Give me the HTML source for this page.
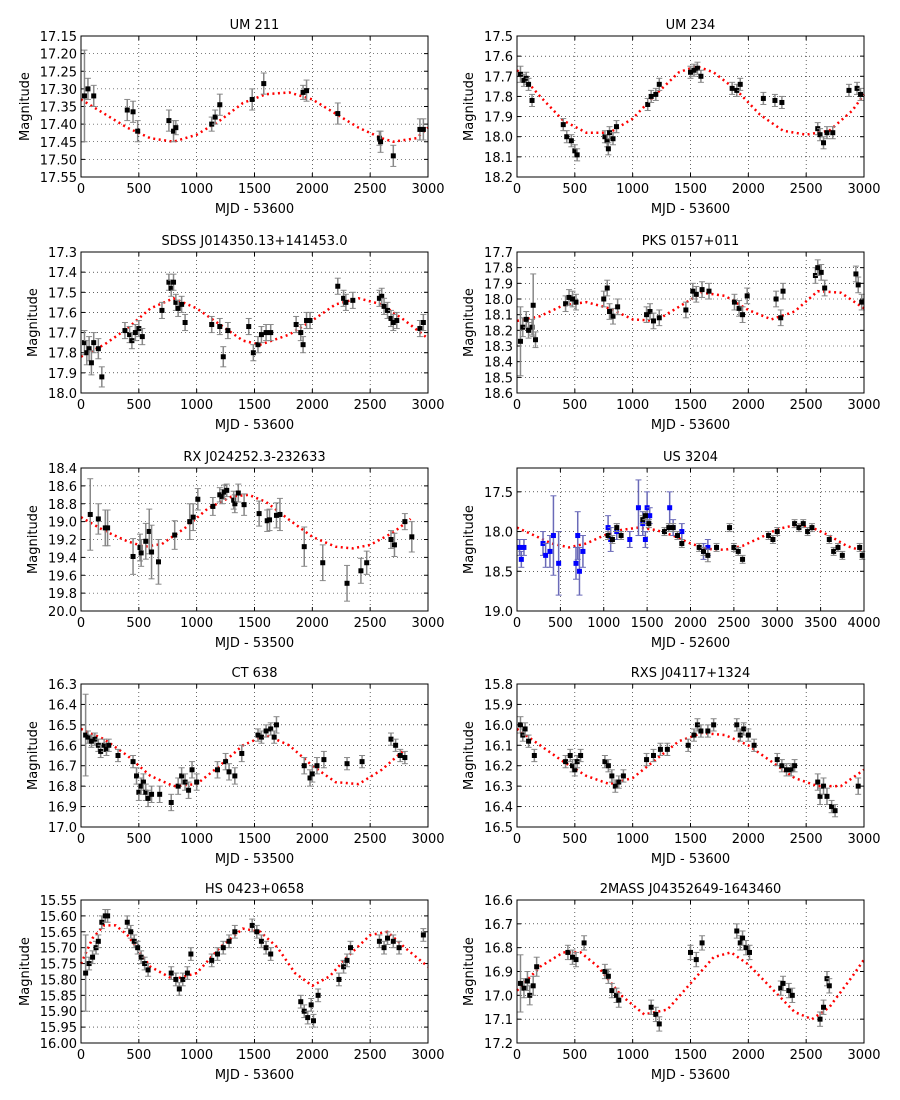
<!DOCTYPE html>
<html><head><meta charset="utf-8"><style>
body{margin:0;background:#fff;width:900px;height:1100px;overflow:hidden}
svg{display:block;font-family:"DejaVu Sans","Liberation Sans",sans-serif}
</style></head><body>
<svg id="fig" width="900" height="1100"></svg>
<script>
const titles=["UM 211","UM 234","SDSS J014350.13+141453.0","PKS 0157+011","RX J024252.3-232633","US 3204","CT 638","RXS J04117+1324","HS 0423+0658","2MASS J04352649-1643460"];
const xLabels=["MJD - 53600","MJD - 53600","MJD - 53600","MJD - 53600","MJD - 53500","MJD - 52600","MJD - 53500","MJD - 53600","MJD - 53600","MJD - 53600"];
const xMax=[3000,3000,3000,3000,3000,4000,3000,3000,3000,3000];
const yTop=[17.15,17.5,17.3,17.7,18.4,17.2,16.3,15.8,15.55,16.6];
const yBot=[17.55,18.2,18.0,18.6,20.0,19.0,17.0,16.5,16.0,17.2];
const yStep=[0.05,0.1,0.1,0.1,0.2,0.5,0.1,0.1,0.05,0.1];
const yDec=[2,1,1,1,1,1,1,1,2,1];
const pts1=[[30,17.32,0.13],[60,17.30,0.03],[110,17.32,0.03],[400,17.36,0.03],[450,17.365,0.03],[490,17.42,0.03],[760,17.39,0.03],[800,17.42,0.03],[820,17.41,0.02],[1130,17.40,0.02],[1160,17.38,0.02],[1200,17.345,0.03],[1480,17.33,0.03],[1580,17.285,0.03],[1920,17.31,0.02],[1950,17.305,0.03],[2220,17.37,0.03],[2580,17.44,0.02],[2590,17.45,0.03],[2700,17.49,0.03],[2930,17.415,0.03],[2960,17.415,0.03]];
const pts2=[[30,17.69,0.04],[60,17.72,0.03],[80,17.71,0.03],[100,17.74,0.03],[130,17.82,0.03],[400,17.94,0.03],[430,18.0,0.03],[470,18.02,0.03],[500,18.07,0.03],[520,18.09,0.03],[760,18.0,0.03],[780,18.02,0.03],[790,18.06,0.03],[800,17.98,0.03],[830,18.01,0.03],[860,17.95,0.03],[1130,17.84,0.03],[1160,17.80,0.03],[1200,17.79,0.03],[1230,17.74,0.03],[1500,17.68,0.03],[1530,17.67,0.03],[1560,17.66,0.03],[1590,17.70,0.03],[1860,17.76,0.03],[1900,17.77,0.03],[1930,17.74,0.03],[2130,17.81,0.03],[2230,17.82,0.03],[2290,17.83,0.03],[2600,17.96,0.03],[2620,17.99,0.03],[2650,18.03,0.03],[2680,17.98,0.03],[2730,17.98,0.03],[2870,17.77,0.03],[2940,17.76,0.03],[2970,17.79,0.03]];
const pts3=[[30,17.75,0.06],[50,17.80,0.06],[70,17.78,0.06],[90,17.85,0.06],[110,17.75,0.05],[150,17.78,0.05],[180,17.92,0.05],[380,17.69,0.04],[420,17.71,0.04],[440,17.74,0.04],[470,17.70,0.04],[500,17.68,0.04],[530,17.72,0.04],[700,17.59,0.04],[760,17.45,0.04],[780,17.48,0.04],[800,17.45,0.04],[820,17.55,0.04],[840,17.58,0.04],[870,17.56,0.04],[900,17.65,0.04],[1130,17.66,0.04],[1200,17.67,0.04],[1230,17.82,0.05],[1270,17.69,0.04],[1450,17.67,0.04],[1490,17.80,0.04],[1530,17.76,0.04],[1560,17.71,0.04],[1600,17.70,0.04],[1640,17.70,0.04],[1860,17.66,0.04],[1900,17.70,0.04],[1920,17.76,0.04],[1950,17.64,0.04],[1980,17.64,0.04],[2220,17.47,0.04],[2270,17.53,0.04],[2290,17.55,0.04],[2350,17.54,0.04],[2580,17.53,0.04],[2600,17.52,0.04],[2620,17.57,0.04],[2650,17.59,0.04],[2680,17.63,0.04],[2700,17.65,0.04],[2730,17.64,0.04],[2930,17.68,0.04],[2960,17.65,0.04]];
const pts4=[[30,18.27,0.22],[50,18.18,0.06],[80,18.13,0.05],[100,18.20,0.05],[130,18.18,0.05],[160,18.26,0.05],[140,18.04,0.2],[420,18.03,0.05],[450,17.99,0.05],[480,18.00,0.05],[510,18.02,0.05],[750,18.00,0.05],[780,17.93,0.05],[800,18.08,0.05],[830,18.11,0.05],[870,18.05,0.05],[1120,18.10,0.05],[1150,18.08,0.05],[1180,18.14,0.05],[1230,18.12,0.05],[1460,18.07,0.05],[1520,17.95,0.05],[1550,17.97,0.05],[1600,17.94,0.05],[1660,17.95,0.05],[1880,18.02,0.05],[1920,18.06,0.05],[1950,18.10,0.05],[1990,17.98,0.05],[2240,18.00,0.05],[2280,18.12,0.05],[2300,17.95,0.05],[2580,17.85,0.05],[2600,17.80,0.05],[2630,17.83,0.05],[2660,17.93,0.05],[2930,17.84,0.05],[2950,17.91,0.05],[2980,18.02,0.05]];
const pts5=[[80,18.92,0.4],[150,18.97,0.17],[210,19.07,0.2],[230,19.07,0.2],[450,19.39,0.2],[510,19.29,0.15],[520,19.35,0.15],[560,19.22,0.2],[590,19.11,0.25],[610,19.34,0.3],[670,19.45,0.25],[810,19.15,0.16],[940,19.0,0.2],[970,18.95,0.15],[1010,18.75,0.12],[1140,18.83,0.1],[1200,18.7,0.08],[1220,18.72,0.08],[1240,18.67,0.08],[1260,18.65,0.07],[1320,18.76,0.1],[1330,18.8,0.1],[1360,18.68,0.1],[1410,18.81,0.12],[1540,18.91,0.14],[1610,18.99,0.12],[1630,18.98,0.12],[1690,18.93,0.14],[1720,18.92,0.18],[1930,19.28,0.22],[2090,19.46,0.2],[2300,19.69,0.2],[2420,19.55,0.14],[2470,19.46,0.13],[2680,19.2,0.1],[2710,19.26,0.13],[2800,19.0,0.09],[2860,19.17,0.17]];
const pts6b=[[30,18.2,0.1],[50,18.35,0.1],[80,18.2,0.1],[300,18.15,0.15],[330,18.3,0.15],[380,18.25,0.2],[420,18.05,0.5],[480,18.4,0.4],[680,18.4,0.2],[700,18.05,0.3],[720,18.5,0.3],[760,18.25,0.2],[1050,17.95,0.15],[1080,18.1,0.15],[1150,18.0,0.1],[1300,18.1,0.1],[1400,17.7,0.35],[1450,17.9,0.15],[1480,18.1,0.1],[1500,17.7,0.2],[1530,17.8,0.1],[1760,17.7,0.2],[1800,17.95,0.1],[1900,18.0,0.1],[2150,18.25,0.1],[2200,18.2,0.1]];
const pts6k=[[1050,18.05,0.05],[1100,18.1,0.05],[1150,17.95,0.05],[1200,18.05,0.05],[1450,17.85,0.05],[1480,17.8,0.05],[1520,17.9,0.05],[1700,18.0,0.05],[1750,17.95,0.05],[1800,17.95,0.05],[1850,18.05,0.05],[1900,18.15,0.05],[2100,18.2,0.05],[2150,18.25,0.05],[2200,18.3,0.08],[2300,18.2,0.05],[2450,17.95,0.05],[2500,18.2,0.05],[2550,18.25,0.05],[2600,18.35,0.05],[2900,18.05,0.05],[2950,18.1,0.05],[3000,18.0,0.05],[3200,17.9,0.05],[3250,17.95,0.05],[3300,17.9,0.05],[3350,18.0,0.05],[3400,17.95,0.05],[3600,18.1,0.05],[3650,18.25,0.05],[3700,18.2,0.05],[3750,18.3,0.05],[3950,18.2,0.05],[3980,18.3,0.05]];
const pts7=[[40,16.55,0.2],[60,16.56,0.03],[90,16.58,0.03],[120,16.57,0.03],[150,16.6,0.03],[170,16.63,0.03],[200,16.6,0.03],[220,16.62,0.03],[240,16.6,0.03],[320,16.65,0.03],[450,16.68,0.03],[480,16.75,0.04],[500,16.83,0.04],[520,16.8,0.04],[540,16.78,0.04],[560,16.83,0.04],[580,16.86,0.04],[610,16.84,0.04],[680,16.84,0.04],[780,16.88,0.04],[840,16.8,0.04],[870,16.75,0.04],[900,16.78,0.04],[930,16.82,0.04],[960,16.72,0.04],[1000,16.78,0.04],[1180,16.72,0.04],[1250,16.68,0.04],[1280,16.73,0.04],[1330,16.75,0.04],[1390,16.64,0.04],[1530,16.55,0.03],[1560,16.56,0.03],[1600,16.53,0.03],[1640,16.52,0.03],[1670,16.56,0.03],[1690,16.5,0.04],[1930,16.7,0.04],[1980,16.76,0.04],[2000,16.74,0.04],[2040,16.7,0.04],[2100,16.67,0.04],[2300,16.69,0.03],[2430,16.68,0.03],[2680,16.57,0.03],[2720,16.6,0.03],[2760,16.65,0.03],[2800,16.66,0.03]];
const pts8=[[30,16.0,0.04],[50,16.05,0.03],[70,16.02,0.03],[100,16.08,0.03],[150,16.15,0.03],[420,16.18,0.03],[460,16.15,0.03],[480,16.2,0.03],[500,16.22,0.03],[520,16.18,0.03],[550,16.15,0.03],[760,16.18,0.03],[790,16.2,0.03],[820,16.25,0.03],[850,16.3,0.03],[880,16.28,0.03],[920,16.25,0.03],[1120,16.17,0.03],[1180,16.15,0.03],[1240,16.12,0.03],[1300,16.12,0.03],[1480,16.1,0.03],[1530,16.05,0.03],[1560,16.0,0.03],[1590,16.03,0.03],[1650,16.03,0.03],[1700,16.0,0.03],[1900,16.0,0.03],[1930,16.05,0.03],[1960,16.02,0.03],[2000,16.05,0.03],[2050,16.1,0.03],[2250,16.17,0.03],[2290,16.2,0.03],[2330,16.22,0.03],[2370,16.22,0.03],[2400,16.2,0.03],[2600,16.28,0.04],[2620,16.35,0.04],[2650,16.3,0.04],[2680,16.35,0.04],[2720,16.4,0.03],[2750,16.42,0.03],[2950,16.3,0.04]];
const pts9=[[40,15.78,0.12],[70,15.75,0.02],[100,15.73,0.02],[130,15.7,0.02],[150,15.68,0.02],[180,15.62,0.02],[210,15.6,0.02],[230,15.6,0.02],[400,15.62,0.02],[430,15.65,0.02],[460,15.68,0.02],[490,15.7,0.02],[520,15.73,0.02],[550,15.75,0.02],[580,15.77,0.02],[780,15.78,0.02],[820,15.8,0.02],[850,15.83,0.02],[880,15.8,0.02],[920,15.78,0.02],[950,15.72,0.02],[1130,15.74,0.02],[1180,15.72,0.02],[1230,15.7,0.02],[1280,15.68,0.02],[1330,15.65,0.02],[1480,15.63,0.02],[1520,15.65,0.02],[1560,15.68,0.02],[1600,15.7,0.02],[1640,15.72,0.02],[1900,15.87,0.02],[1930,15.9,0.02],[1960,15.92,0.02],[1990,15.88,0.02],[2010,15.93,0.02],[2050,15.85,0.02],[2230,15.8,0.02],[2270,15.76,0.02],[2300,15.74,0.02],[2330,15.7,0.02],[2580,15.68,0.02],[2620,15.7,0.02],[2650,15.67,0.02],[2700,15.68,0.02],[2750,15.7,0.02],[2960,15.66,0.02]];
const pts10=[[30,16.95,0.12],[60,16.97,0.04],[90,16.94,0.04],[110,17.0,0.04],[140,16.96,0.04],[170,16.88,0.04],[440,16.82,0.03],[480,16.84,0.03],[510,16.85,0.03],[580,16.78,0.03],[760,16.9,0.03],[790,16.92,0.03],[820,16.98,0.03],[860,17.0,0.03],[880,17.02,0.03],[1160,17.05,0.03],[1200,17.08,0.03],[1230,17.12,0.03],[1500,16.82,0.03],[1550,16.85,0.03],[1600,16.78,0.03],[1900,16.73,0.03],[1930,16.78,0.03],[1950,16.76,0.03],[1980,16.8,0.03],[2010,16.82,0.03],[2280,16.97,0.03],[2300,16.95,0.03],[2350,16.98,0.03],[2380,17.0,0.03],[2620,17.1,0.03],[2650,17.05,0.03],[2680,16.93,0.03],[2700,16.96,0.03]];
const model1=[[0,17.33],[200,17.37],[400,17.41],[600,17.44],[800,17.45],[1000,17.43],[1200,17.39],[1400,17.34],[1600,17.315],[1800,17.31],[2000,17.33],[2200,17.37],[2400,17.41],[2600,17.44],[2700,17.45],[2900,17.44],[3000,17.41]];
const model2=[[0,17.67],[200,17.80],[400,17.92],[600,17.98],[800,17.98],[1000,17.91],[1200,17.79],[1400,17.68],[1550,17.65],[1700,17.68],[1900,17.77],[2100,17.89],[2300,17.97],[2500,17.99],[2700,17.97],[2900,17.87],[3000,17.79]];
const model3=[[0,17.82],[200,17.76],[400,17.68],[600,17.58],[800,17.53],[1000,17.58],[1200,17.66],[1400,17.74],[1550,17.76],[1800,17.71],[2000,17.64],[2200,17.56],[2400,17.53],[2600,17.56],[2800,17.64],[3000,17.73]];
const model4=[[0,18.14],[200,18.11],[400,18.04],[600,18.02],[800,18.06],[1000,18.13],[1200,18.14],[1400,18.05],[1600,17.96],[1800,17.98],[2000,18.07],[2200,18.13],[2400,18.08],[2600,17.95],[2800,17.96],[3000,18.06]];
const model5=[[0,18.95],[200,19.1],[400,19.22],[550,19.28],[700,19.25],[900,19.07],[1100,18.85],[1300,18.72],[1450,18.7],[1600,18.78],[1800,18.98],[2000,19.17],[2200,19.28],[2350,19.3],[2500,19.26],[2700,19.12],[2850,18.97]];
const model6=[[0,17.95],[200,18.05],[400,18.15],[600,18.2],[800,18.15],[1000,18.05],[1200,17.98],[1400,17.95],[1600,17.98],[1800,18.05],[2000,18.15],[2200,18.22],[2400,18.23],[2600,18.18],[2800,18.08],[3000,17.97],[3200,17.92],[3400,17.95],[3600,18.05],[3800,18.18],[4000,18.25]];
const model7=[[0,16.52],[200,16.57],[400,16.65],[600,16.75],[800,16.8],[1000,16.79],[1200,16.7],[1400,16.6],[1600,16.55],[1800,16.6],[2000,16.7],[2200,16.78],[2400,16.79],[2600,16.72],[2800,16.62]];
const model8=[[0,16.02],[200,16.1],[400,16.18],[600,16.25],[800,16.29],[1000,16.26],[1200,16.17],[1400,16.08],[1600,16.04],[1800,16.05],[2000,16.1],[2200,16.18],[2400,16.26],[2600,16.3],[2800,16.3],[3000,16.22]];
const model9=[[0,15.75],[100,15.67],[200,15.63],[300,15.63],[400,15.66],[500,15.71],[600,15.76],[800,15.8],[1000,15.78],[1200,15.7],[1400,15.64],[1550,15.65],[1700,15.7],[1850,15.78],[2000,15.82],[2150,15.79],[2300,15.73],[2500,15.66],[2650,15.65],[2800,15.7],[3000,15.76]];
const model10=[[0,16.98],[200,16.88],[400,16.82],[550,16.82],[700,16.88],[900,17.0],[1100,17.08],[1300,17.06],[1500,16.95],[1700,16.84],[1850,16.82],[2000,16.87],[2200,16.97],[2400,17.07],[2550,17.1],[2700,17.05],[2900,16.92],[3000,16.85]];
const allPts=[[pts1],[pts2],[pts3],[pts4],[pts5],[pts6b,pts6k],[pts7],[pts8],[pts9],[pts10]];
const allModels=[model1,model2,model3,model4,model5,model6,model7,model8,model9,model10];

const NS="http://www.w3.org/2000/svg";
const fig=document.getElementById('fig');
function mk(tag,attrs,parent){const e=document.createElementNS(NS,tag);for(const k in attrs)e.setAttribute(k,attrs[k]);parent.appendChild(e);return e;}
const colX=[81,517],rowY=[[36,177],[252,393],[468,611],[684,827],[900,1043]],W=347;
for(let i=0;i<10;i++){
  const c=i%2,r=Math.floor(i/2);
  const x0=colX[c],x1=x0+W,y0=rowY[r][0],y1=rowY[r][1];
  const g=mk('g',{},fig);
  
  
  const sx=v=>x0+v/xMax[i]*W;
  const sy=v=>y0+(v-yTop[i])/(yBot[i]-yTop[i])*(y1-y0);
  mk('rect',{x:x0,y:y0,width:W,height:y1-y0,fill:'#fff'},g);
  // grid + ticks
  for(let t=0;t<=xMax[i]+1e-6;t+=500){
    const X=sx(t);
    mk('line',{x1:X,y1:y0,x2:X,y2:y1,stroke:'#000','stroke-width':0.6,'stroke-dasharray':'1,3'},g);
    mk('line',{x1:X,y1:y1,x2:X,y2:y1-4,stroke:'#000','stroke-width':1},g);
    mk('line',{x1:X,y1:y0,x2:X,y2:y0+4,stroke:'#000','stroke-width':1},g);
    const tl=mk('text',{x:X,y:y1+16,'font-size':13,'text-anchor':'middle',fill:'#000'},g);
    tl.textContent=t;
    
    
  }
  const n=Math.round((yBot[i]-yTop[i])/yStep[i]);
  const first=Math.ceil(yTop[i]/yStep[i]-1e-6);
  for(let k=first;k*yStep[i]<=yBot[i]+1e-6;k++){
    const v=k*yStep[i],Y=sy(v);
    mk('line',{x1:x0,y1:Y,x2:x1,y2:Y,stroke:'#000','stroke-width':0.6,'stroke-dasharray':'1,3'},g);
    mk('line',{x1:x0,y1:Y,x2:x0+4,y2:Y,stroke:'#000','stroke-width':1},g);
    mk('line',{x1:x1,y1:Y,x2:x1-4,y2:Y,stroke:'#000','stroke-width':1},g);
    const tl=mk('text',{x:x0-4,y:Y+5,'font-size':13,'text-anchor':'end',fill:'#000'},g);
    tl.textContent=v.toFixed(yDec[i]);
    
    
  }
  // model
  const m=allModels[i];
  const path=mk('path',{d:'M'+m.map(p=>sx(p[0]).toFixed(1)+','+sy(p[1]).toFixed(1)).join(' L'),fill:'none',stroke:'#f00','stroke-width':2.5,'stroke-dasharray':'2,3.5'},g);
  
  
  // points
  allPts[i].forEach((arr,si)=>{
    const blue=(i===5&&si===0);
    arr.forEach(p=>{
      const X=sx(p[0]),Y=sy(p[1]);
      const eb=mk('g',{},g);
      
      
      const ec=blue?'#6a6ab8':'#888';
      mk('line',{x1:X,y1:sy(p[1]-p[2]),x2:X,y2:sy(p[1]+p[2]),stroke:ec,'stroke-width':1.5},eb);
      mk('line',{x1:X-3,y1:sy(p[1]-p[2]),x2:X+3,y2:sy(p[1]-p[2]),stroke:ec,'stroke-width':1},eb);
      mk('line',{x1:X-3,y1:sy(p[1]+p[2]),x2:X+3,y2:sy(p[1]+p[2]),stroke:ec,'stroke-width':1},eb);
      mk('rect',{x:X-2.5,y:Y-2.5,width:5,height:5,fill:blue?'#00f':'#000'},eb);
    });
  });
  mk('rect',{x:x0,y:y0,width:W,height:y1-y0,fill:'none',stroke:'#000','stroke-width':1},g);
  const t=mk('text',{x:x0+W/2,y:y0-7,'font-size':13,'text-anchor':'middle',fill:'#000'},g);
  t.textContent=titles[i];
  
  
  const xl=mk('text',{x:x0+W/2,y:y1+36,'font-size':13,'text-anchor':'middle',fill:'#000'},g);
  xl.textContent=xLabels[i];
  
  
  const yx=x0-(yDec[i]===2?52:44);
  const yl=mk('text',{x:yx,y:(y0+y1)/2,'font-size':13,'text-anchor':'middle',fill:'#000',transform:`rotate(-90 ${yx} ${(y0+y1)/2})`},g);
  yl.textContent='Magnitude';
  
  
}
</script>
</body></html>
